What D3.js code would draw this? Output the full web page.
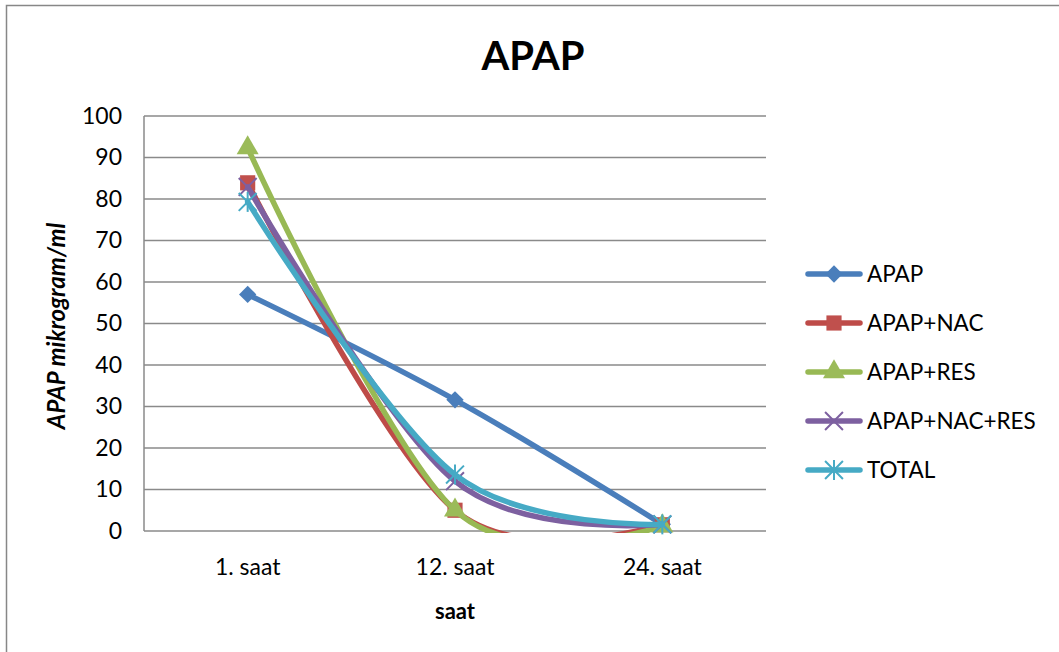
<!DOCTYPE html>
<html>
<head>
<meta charset="utf-8">
<script src="https://cdn.jsdelivr.net/npm/d3@7"></script>
<style>
  html, body { margin: 0; padding: 0; background: #fff; }
  svg { display: block; font-family: Lato, "Open Sans", sans-serif; }
</style>
</head>
<body>
<svg id="chart" width="1059" height="652"></svg>
<script>
// Time points (x categories)
const categories = ["1. saat", "12. saat", "24. saat"];

// APAP concentration (µg/ml) per group
const apap        = [57, 31.6, 1.6];
const apapNac     = [83.9, 5, 1.5];
const apapRes     = [92.3, 5, 1.2];
const apapNacRes  = [82.9, 12, 1.6];
const total       = [79.3, 13.6, 1.6];

const seriesNames = ["APAP", "APAP+NAC", "APAP+RES", "APAP+NAC+RES", "TOTAL"];
const seriesValues = [apap, apapNac, apapRes, apapNacRes, total];
const seriesColors = ["#4A7EBB", "#BE4B48", "#98B954", "#7D60A0", "#46AAC5"];
const seriesMarkers = ["diamond", "square", "triangle", "x", "star"];

const yTicks = [0, 10, 20, 30, 40, 50, 60, 70, 80, 90, 100];

const svg = d3.select("#chart");
const W = 1059, H = 652;

// outer chart frame
svg.append("rect")
  .attr("x", 6.5).attr("y", 5.5)
  .attr("width", W + 10).attr("height", H + 10)
  .attr("fill", "#fff").attr("stroke", "#878787").attr("stroke-width", 1.5);

const plot = { left: 144, right: 766, top: 116, bottom: 531 };

const x = d3.scaleBand().domain(categories).range([plot.left, plot.right]);
const y = d3.scaleLinear().domain([0, 100]).range([plot.bottom, plot.top]);

// horizontal gridlines
svg.append("g").selectAll("line").data(yTicks).join("line")
  .attr("x1", plot.left).attr("x2", plot.right)
  .attr("y1", d => y(d)).attr("y2", d => y(d))
  .attr("stroke", "#8a8a8a").attr("stroke-width", 1.5);

// value axis line
svg.append("line")
  .attr("x1", plot.left).attr("x2", plot.left)
  .attr("y1", plot.top).attr("y2", plot.bottom)
  .attr("stroke", "#8a8a8a").attr("stroke-width", 1.5);

// y axis labels
const yAxis = d3.axisLeft(y).tickValues(yTicks).tickSize(0).tickPadding(22);
const gy = svg.append("g").attr("transform", `translate(${plot.left},0)`).call(yAxis);
gy.select(".domain").remove();
gy.selectAll("text").attr("font-size", 23).attr("fill", "#000")
  .attr("font-family", "Lato, sans-serif");

// x axis labels
const xAxis = d3.axisBottom(x).tickSize(0).tickPadding(28);
const gx = svg.append("g").attr("transform", `translate(0,${plot.bottom})`).call(xAxis);
gx.select(".domain").remove();
gx.selectAll("text").attr("font-size", 23).attr("fill", "#000")
  .attr("font-family", "Lato, sans-serif");

// title
svg.append("text")
  .attr("x", 533).attr("y", 70)
  .attr("text-anchor", "middle")
  .attr("font-size", 40).attr("font-weight", "bold")
  .text("APAP");

// axis titles
svg.append("text")
  .attr("x", 455).attr("y", 619)
  .attr("text-anchor", "middle")
  .attr("font-size", 22).attr("font-weight", "bold")
  .text("saat");

svg.append("text")
  .attr("transform", `translate(65,326) rotate(-90)`)
  .attr("text-anchor", "middle")
  .attr("font-size", 24).attr("font-weight", "bold").attr("font-style", "italic")
  .text("APAP mikrogram/ml");

// marker drawing
function drawMarker(g, type, color, cx, cy) {
  const m = g.append("g").attr("transform", `translate(${cx},${cy})`);
  if (type === "diamond") {
    m.append("path").attr("d", d3.symbol().type(d3.symbolSquare).size(150)())
      .attr("transform", "rotate(45)").attr("fill", color);
  } else if (type === "square") {
    m.append("path").attr("d", d3.symbol().type(d3.symbolSquare).size(230)())
      .attr("fill", "#C0504D");
  } else if (type === "triangle") {
    m.append("path").attr("d", d3.symbol().type(d3.symbolTriangle).size(210)())
      .attr("fill", "#9BBB59");
  } else if (type === "x") {
    m.append("path").attr("d", d3.symbol().type(d3.symbolX).size(210)())
      .attr("fill", "none").attr("stroke", color).attr("stroke-width", 2);
  } else if (type === "star") {
    m.append("path").attr("d", d3.symbol().type(d3.symbolX).size(210)())
      .attr("fill", "none").attr("stroke", color).attr("stroke-width", 2);
    m.append("line").attr("x1", 0).attr("x2", 0).attr("y1", -10).attr("y2", 10)
      .attr("stroke", color).attr("stroke-width", 2);
  }
}

// clip lines to the plot area
svg.append("clipPath").attr("id", "plotclip")
  .append("rect")
  .attr("x", plot.left).attr("y", plot.top - 20)
  .attr("width", plot.right - plot.left).attr("height", plot.bottom - plot.top + 22);

const line = d3.line()
  .x((d, i) => x(categories[i]) + x.bandwidth() / 2)
  .y(d => y(d))
  .curve(d3.curveCardinal.tension(0));

const series = svg.append("g");
seriesValues.forEach((vals, si) => {
  const g = series.append("g");
  g.append("path")
    .attr("d", line(vals))
    .attr("clip-path", "url(#plotclip)")
    .attr("fill", "none")
    .attr("stroke", seriesColors[si])
    .attr("stroke-width", 5.5)
    .attr("stroke-linecap", "round")
    .attr("stroke-linejoin", "round");
  vals.forEach((v, i) => {
    drawMarker(g, seriesMarkers[si], seriesColors[si],
      x(categories[i]) + x.bandwidth() / 2, y(v));
  });
});

// legend
const legend = svg.append("g");
seriesNames.forEach((name, i) => {
  const ly = 274 + i * 49;
  const g = legend.append("g");
  g.append("line")
    .attr("x1", 808).attr("x2", 860)
    .attr("y1", ly).attr("y2", ly)
    .attr("stroke", seriesColors[i]).attr("stroke-width", 5.5)
    .attr("stroke-linecap", "round");
  drawMarker(g, seriesMarkers[i], seriesColors[i], 834, ly);
  g.append("text")
    .attr("x", 867).attr("y", ly + 8)
    .attr("font-size", 22.5)
    .text(name);
});
</script>
</body>
</html>
